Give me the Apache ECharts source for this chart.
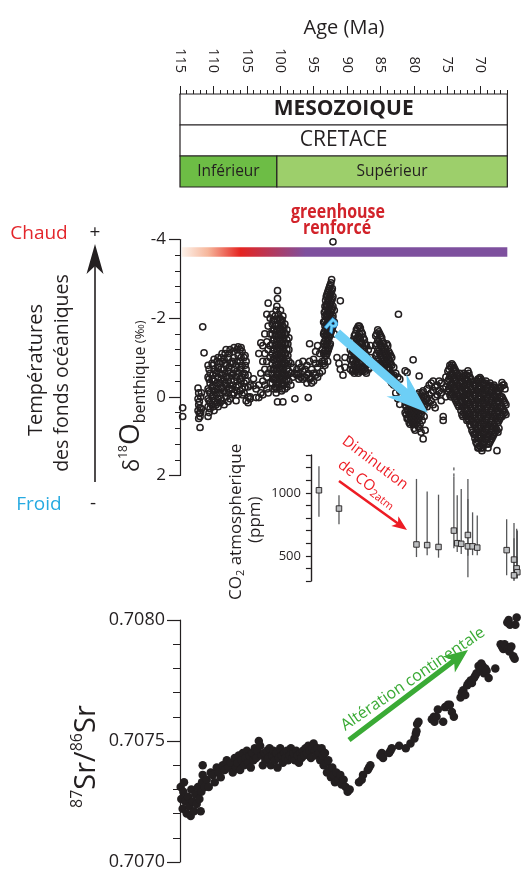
<!DOCTYPE html>
<html><head><meta charset="utf-8">
<script src="https://cdn.jsdelivr.net/npm/echarts@6/dist/echarts.min.js"></script>
<style>html,body{margin:0;padding:0;background:#fff}#c{width:522px;height:871px}</style>
</head><body><div id="c"></div><script>
// ---------------- DATA ----------------
const ageTickLabels = [115,110,105,100,95,90,85,80,75,70];
const unitNames = ['MESOZOIQUE','CRETACE','Inférieur','Supérieur'];
const unitRow   = [0,1,2,2];
const unitStart = [115,115,115,100.5];
const unitEnd   = [66,66,100.5,66];
const unitColor = ['#ffffff','#ffffff','#6dbd45','#9dcf6b'];

// greenhouse bar span (Ma)
const greenhouseBar = [115, 66];

// benthic d18O (per mil): [age Ma, [values]]
const d18oColumns = [
[114.6,[0.28,0.5]],
[112.3,[-0.22,0.05,0.35]],[112.2,[-0.1,0.2,0.55]],[112.1,[0.12,0.42]],[112.0,[0.28,0.5,0.78]],
[111.9,[0.0,0.4]],[111.8,[-0.1,0.3]],[111.6,[-1.78]],[111.4,[-1.12]],
[110.8,[-0.8,-0.5,-0.2,0.05,0.25,0.5]],[110.65,[-0.7,-0.45,-0.15,0.1,0.4]],[110.5,[-0.6,-0.35,-0.1,0.15,0.3]],
[110.2,[-0.85,-0.45,-0.25,0.0,0.2]],[110.05,[-0.8,-0.55,-0.3,-0.05,0.25]],[109.9,[-0.95,-0.7,-0.4,-0.15,0.1,0.35]],
[109.6,[-0.6,-0.3,-0.05,0.2]],[109.45,[-0.9,-0.65,-0.35,-0.1,0.15]],[109.3,[-1.0,-0.75,-0.5,-0.2,0.05,0.25]],
[109.0,[-0.85,-0.6,-0.35,-0.1,0.15]],[108.85,[-1.0,-0.7,-0.45,-0.2,0.05]],[108.7,[-1.1,-0.9,-0.55,-0.25,0.1]],
[108.4,[-0.95,-0.7,-0.4,-0.15,0.2]],[108.25,[-1.1,-0.85,-0.6,-0.35,-0.1]],[108.1,[-1.2,-0.8,-0.5,-0.3,0.0]],
[107.8,[-1.0,-0.65,-0.4,-0.1,0.12]],[107.65,[-1.1,-0.75,-0.5,-0.2]],[107.5,[-1.2,-0.85,-0.6,-0.3,0.05]],
[107.2,[-0.9,-0.55,-0.2,-0.05]],[107.05,[-1.15,-0.85,-0.6,-0.3]],[106.9,[-1.25,-1.0,-0.7,-0.4,-0.1]],
[106.6,[-0.8,-0.5,-0.25,0.1]],[106.45,[-1.2,-0.9,-0.65,-0.4,-0.15]],[106.3,[-1.27,-1.05,-0.6,-0.3,-0.05]],
[106.0,[-1.2,-0.9,-0.7,-0.45,-0.15]],[105.85,[-1.25,-1.0,-0.75,-0.4]],[105.7,[-1.15,-0.8,-0.5,-0.2,-0.05]],
[105.4,[-1.0,-0.6,-0.35,-0.1]],[105.25,[-1.05,-0.8,-0.55,-0.25]],[105.1,[-0.9,-0.7,-0.4,0.1]],
[104.8,[-0.55,-0.25,0.0,0.15]],[104.5,[-0.3,0.0,0.05]],
[104.0,[-0.46,-0.28]],[103.6,[0.02,-0.2]],
[103.2,[-0.3,0.02,-1.1]],[102.9,[-0.6,-0.1,-1.37]],
[102.6,[-1.3,-0.9,-0.4,-0.05]],[102.3,[-1.6,-1.1,-0.7,-0.3]],
[102.0,[-2.1,-1.4,-0.9,-0.5,-0.2]],[101.8,[-2.38,-1.8,-1.2,-0.6,-0.1]],
[101.5,[-2.0,-1.6,-1.3,-1.0,-0.7,-0.35]],
[101.2,[-2.1,-1.85,-1.6,-1.35,-1.1,-0.85,-0.6,-0.35]],
[101.05,[-1.95,-1.7,-1.45,-1.2,-0.95,-0.7,-0.45]],
[100.9,[-1.95,-1.7,-1.45,-1.2,-0.95,-0.7,-0.45,-0.2]],
[100.75,[-2.05,-1.8,-1.55,-1.3,-1.05,-0.8,-0.5,-0.25]],
[100.6,[-2.2,-1.8,-1.55,-1.3,-1.05,-0.8,-0.55,-0.3,-0.1]],
[100.5,[-2.3,-1.7,-1.45,-1.2,-0.95,-0.7,-0.45,-0.2]],
[100.4,[-2.7,-2.5,-1.95,-1.65,-1.4,-1.15,-0.9,-0.65,-0.4,0.13]],
[100.25,[-2.1,-1.85,-1.6,-1.35,-1.1,-0.85,-0.6,-0.35]],
[100.1,[-2.0,-1.75,-1.5,-1.25,-1.0,-0.75,-0.5,-0.25]],
[99.95,[-2.2,-1.95,-1.7,-1.45,-1.2,-0.95,-0.7,-0.45]],
[99.8,[-1.9,-1.6,-1.35,-1.1,-0.85,-0.6,-0.35,-0.15]],
[99.7,[-1.95,-1.7,-1.45,-1.2,-0.95,-0.7,-0.45,-0.2]],
[99.6,[-2.05,-1.8,-1.55,-1.3,-1.05,-0.8,-0.55,-0.3,0.13]],
[99.45,[-1.75,-1.5,-1.25,-1.0,-0.75,-0.5,-0.3]],
[99.3,[-1.85,-1.6,-1.35,-1.1,-0.85,-0.6,-0.4,-0.2]],
[99.15,[-1.6,-1.35,-1.1,-0.85,-0.55]],
[99.0,[-1.7,-1.45,-1.2,-0.95,-0.7,-0.45,-0.25]],
[98.85,[-1.35,-1.05,-0.8,-0.55]],
[98.7,[-1.5,-1.2,-0.9,-0.65,-0.4]],[98.4,[-0.85,-0.6,-0.3]],[98.1,[-0.75,-0.5]],
[97.8,[0.05,-0.6]],[97.5,[-0.7,-0.55]],[97.2,[-0.85,-0.6,-0.45]],[96.9,[-0.75,-0.5]],
[96.6,[-0.9,-0.65,-0.45]],[96.3,[-0.7,-0.5]],[96.0,[-0.8,-0.55,-0.35]],[95.8,[0.02,-0.6]],
[95.6,[-1.35,-0.9,-0.45]],[95.3,[-0.7,-0.5,-0.35]],[95.0,[-0.95,-0.6,-0.4]],
[94.7,[-1.15,-0.85,-0.55]],[94.4,[-1.3,-0.75,-0.5]],[94.1,[-1.1,-0.85,-0.6]],
[93.7,[-1.2,-0.9,-0.65]],[93.5,[-1.9,-1.6,-1.35,-1.1,-0.85]],
[93.4,[-2.15,-1.9,-1.65,-1.4,-1.15,-0.9]],
[93.3,[-2.3,-2.05,-1.8,-1.55,-1.3,-1.05,-0.8]],
[93.2,[-2.45,-2.2,-1.95,-1.7,-1.45,-1.2]],
[93.1,[-2.55,-2.3,-2.05,-1.8,-1.55,-1.3,-1.05]],
[93.0,[-2.6,-2.35,-2.1,-1.85,-1.6,-1.35,-1.1]],
[92.9,[-2.65,-2.4,-2.15,-1.9,-1.65,-1.4,-1.15,-0.9]],
[92.8,[-2.7,-2.45,-2.2,-1.95,-1.7,-1.45,-1.2]],
[92.7,[-2.75,-2.5,-2.25,-2.0,-1.75,-1.5,-1.25]],
[92.6,[-2.8,-2.55,-2.3,-2.05,-1.8,-1.55,-1.3]],
[92.5,[-2.85,-2.6,-2.35,-2.1,-1.85,-1.6,-1.35]],
[92.4,[-2.9,-2.65,-2.4,-2.15,-1.9,-1.65]],
[92.3,[-2.98,-2.7,-2.45,-2.2,-1.95,-1.7]],
[92.2,[-2.75,-2.5,-2.25,-2.0,-1.75]],
[92.1,[-3.94,-2.55,-2.3,-2.05,-1.8]],[91.9,[-2.2,-1.9,-1.6]],
[91.5,[-1.0]],[91.2,[-0.85]],[91.0,[-2.44,-0.7]],[90.6,[-0.55]],[90.3,[-0.75,-1.0]],
[89.5,[-1.2,-0.95,-0.7]],[89.35,[-1.3,-1.05,-0.8]],[89.2,[-1.4,-1.15,-0.9,-0.65]],
[89.05,[-1.45,-1.2,-0.95,-0.7]],[88.9,[-1.55,-1.3,-1.05,-0.8,-0.6]],
[88.75,[-1.6,-1.35,-1.1,-0.85,-0.65]],[88.6,[-1.7,-1.45,-1.2,-0.95,-0.7]],
[88.45,[-1.75,-1.5,-1.25,-1.0,-0.75]],[88.3,[-1.8,-1.55,-1.3,-1.05,-0.8,-0.6]],
[88.15,[-1.8,-1.6,-1.35,-1.1,-0.85,-0.65]],[88.0,[-1.75,-1.5,-1.25,-1.0,-0.75]],
[87.85,[-1.65,-1.4,-1.15,-0.9,-0.7]],[87.7,[-1.6,-1.35,-1.1,-0.85,-0.65]],
[87.55,[-1.5,-1.25,-1.0,-0.75]],[87.4,[-1.45,-1.2,-0.95,-0.7]],
[87.25,[-1.35,-1.1,-0.85,-0.65]],[87.1,[-1.3,-1.05,-0.8,-0.6]],
[86.8,[-1.2,-0.95,-0.7]],[86.5,[-1.3,-1.0,-0.75]],
[85.7,[-1.55,-1.3,-1.05]],[85.55,[-1.6,-1.35,-1.1,-0.85]],[85.4,[-1.7,-1.45,-1.2,-0.95,-0.75]],
[85.25,[-1.65,-1.4,-1.15,-0.9,-0.7]],[85.1,[-1.6,-1.35,-1.1,-0.85]],
[84.95,[-1.55,-1.3,-1.05,-0.85]],[84.8,[-1.5,-1.25,-1.0,-0.8]],
[84.65,[-1.4,-1.15,-0.95,-0.75]],[84.5,[-1.35,-1.1,-0.9,-0.7]],
[84.35,[-1.25,-1.05,-0.85,-0.65]],[84.2,[-1.2,-1.0,-0.8,-0.6]],
[84.05,[-1.35,-1.1,-0.9,-0.7]],[83.9,[-1.3,-1.05,-0.85,-0.6]],
[83.75,[-1.15,-0.95,-0.75,-0.55]],[83.6,[-1.1,-0.9,-0.7,-0.5]],
[83.45,[-1.05,-0.85,-0.6,-0.4]],[83.3,[-1.0,-0.8,-0.55,-0.35]],[83.0,[-0.75,-0.55,-0.3]],
[82.7,[-0.6,-0.35,-0.1]],[82.4,[-0.5,-0.25,0.05]],[82.3,[-2.1]],[82.1,[-0.45,-0.15,0.19]],
[81.3,[0.0,0.2,0.4,-0.66]],[81.15,[0.05,0.25,0.45]],[81.0,[-0.1,0.15,0.35,0.55,-0.62]],
[80.85,[-0.05,0.15,0.35,0.55]],[80.7,[0.05,0.25,0.45,0.65]],[80.55,[0.1,0.3,0.5,0.7]],
[80.4,[0.0,0.2,0.4,0.6]],[80.25,[0.05,0.25,0.45,0.65]],
[80.1,[-0.94,0.1,0.3,0.5,0.7]],[79.95,[0.0,0.2,0.4,0.6,0.8]],[79.8,[0.05,0.25,0.45,0.65,0.85]],
[79.65,[0.1,0.3,0.5,0.7]],[79.5,[0.0,0.2,0.4,0.6]],[79.35,[-0.05,0.15,0.35,0.55,0.75]],
[79.2,[-0.53,-0.1,0.15,0.35,0.55,0.8]],[79.05,[0.05,0.3,0.5,0.7]],
[78.9,[0.0,0.2,0.45,0.9]],[78.75,[-0.1,0.15,0.35,0.6]],[78.6,[-0.15,0.1,0.3,1.07]],
[78.45,[0.0,0.25,0.5]],[78.3,[-0.05,0.2,0.85]],
[78.0,[-0.2,0.05,0.25]],[77.7,[-0.3,-0.05,0.15]],[77.4,[-0.35,-0.1,0.1]],
[77.1,[-0.4,-0.15,0.2]],[76.8,[-0.25,0.0,0.28]],[76.5,[-0.3,-0.05]],
[76.2,[-0.4,-0.15]],[75.9,[-0.35,-0.1,0.1]],[75.6,[0.5,0.6,-0.2]],
[75.2,[-0.5,-0.25,0.0]],[74.9,[-0.65,-0.4,-0.15]],[74.75,[-0.7,-0.45,-0.2]],
[74.6,[-0.8,-0.55,-0.3,-0.05]],[74.45,[-0.75,-0.5,-0.25,0.0]],
[74.3,[-0.84,-0.6,-0.35,-0.1]],[74.15,[-0.8,-0.55,-0.3,-0.05]],[74.0,[-0.75,-0.5,-0.25,0.0]],
[73.85,[-0.7,-0.45,-0.2,0.05]],[73.7,[-0.65,-0.4,-0.15,0.1]],[73.55,[-0.6,-0.35,-0.1,0.15]],
[73.4,[-0.55,-0.3,-0.05,0.2]],[73.25,[-0.5,-0.25,0.0,0.25]],[73.1,[-0.6,-0.35,-0.1,0.15]],
[72.95,[-0.4,-0.15,0.1,0.35]],[72.8,[-0.5,-0.25,0.0,0.25,0.45]],[72.65,[-0.5,-0.25,0.0,0.25,0.5]],
[72.5,[-0.6,-0.35,-0.1,0.15,0.4]],[72.35,[-0.55,-0.3,-0.05,0.2,0.45]],
[72.2,[-0.45,-0.2,0.05,0.3,0.5]],[72.05,[-0.55,-0.3,-0.05,0.2,0.45,0.6]],
[71.9,[-0.66,-0.4,-0.15,0.1,0.35,0.55]],[71.75,[-0.6,-0.35,-0.1,0.15,0.4,0.6]],
[71.6,[-0.5,-0.25,0.0,0.25,0.5,0.7]],[71.45,[-0.45,-0.2,0.05,0.3,0.55,0.75]],
[71.3,[-0.4,-0.15,0.1,0.35,0.6,0.85]],[71.15,[-0.35,-0.1,0.15,0.4,0.65,0.9]],
[71.0,[-0.3,-0.05,0.2,0.45,0.7,0.95]],[70.85,[-0.3,-0.05,0.2,0.45,0.7,0.95,1.05]],
[70.7,[-0.35,-0.1,0.15,0.4,0.65,0.9,1.15]],[70.55,[-0.4,-0.15,0.1,0.35,0.6,0.85,1.1,1.2]],
[70.4,[-0.45,-0.2,0.05,0.3,0.55,0.8,1.05,1.3]],[70.25,[-0.45,-0.2,0.05,0.3,0.55,0.8,1.05,1.3]],
[70.1,[-0.49,-0.25,0.0,0.25,0.5,0.75,1.0,1.25]],[69.95,[-0.45,-0.2,0.05,0.3,0.55,0.8,1.05,1.3]],
[69.8,[-0.4,-0.15,0.1,0.35,0.6,0.85,1.1,1.37]],[69.65,[-0.35,-0.1,0.15,0.4,0.65,0.9,1.15,1.3]],
[69.5,[-0.3,-0.05,0.2,0.45,0.7,0.95,1.2]],[69.35,[-0.35,-0.1,0.15,0.4,0.65,0.9,1.15]],
[69.2,[-0.4,-0.15,0.1,0.35,0.6,0.85,1.1]],[69.05,[-0.3,-0.05,0.2,0.45,0.7,0.95,1.2]],
[68.9,[-0.25,0.0,0.25,0.5,0.75,1.0,1.3]],[68.75,[-0.3,-0.05,0.2,0.45,0.7,0.95,1.2]],
[68.6,[-0.35,-0.1,0.15,0.4,0.65,0.9,1.15]],[68.45,[-0.25,0.0,0.25,0.5,0.75,1.0,1.1]],
[68.3,[-0.2,0.05,0.3,0.55,0.8,1.05]],[68.15,[-0.25,0.0,0.25,0.5,0.75,1.0]],
[68.0,[-0.3,-0.05,0.2,0.45,0.7,0.95]],[67.85,[-0.25,0.0,0.25,0.5,0.75,0.9]],
[67.7,[-0.2,0.05,0.3,0.55,0.8]],[67.55,[-0.15,0.1,0.35,0.6,0.85,1.37]],
[67.4,[-0.1,0.15,0.4,0.65,0.9]],[67.25,[-0.15,0.1,0.35,0.6,0.8]],
[67.1,[-0.2,0.05,0.3,0.55]],[66.95,[-0.25,0.0,0.25,0.5]],
[66.8,[-0.36,0.0,0.25,0.5]],[66.65,[-0.3,0.05,0.3,0.45]],
[66.5,[-0.3,0.1,0.35]],[66.35,[-0.2,0.15,0.4]],[66.2,[0.2,0.45]]
];

// atmospheric CO2 (ppm)
const co2Age  = [94.2,91.2,79.6,78.0,76.3,74.0,73.5,72.9,71.9,71.9,71.2,70.5,66.1,65.0,64.6,64.5,65.0];
const co2Val  = [1020,875,590,585,570,700,600,595,665,575,575,565,545,470,400,370,345];
const co2Low  = [810,750,490,505,485,560,530,515,500,330,505,505,345,310,330,320,300];
const co2High = [1210,980,1110,1010,985,1130,980,1030,1110,950,845,820,790,760,715,700,640];
const co2HighDashed = [null,null,null,null,null,1215,null,null,null,null,null,null,null,null,null,null,null];

// 87Sr/86Sr : [age Ma, ratio]
const srPoints = [
[114.9,.70731],[114.8,.70726],[114.6,.70722],[114.5,.70729],[114.4,.70733],[114.2,.70725],[114.0,.7072],
[113.8,.70727],[113.6,.70723],[113.4,.70719],[113.3,.7073],[113.1,.70725],[112.9,.70721],[112.7,.70728],
[112.5,.70724],[112.3,.70731],[112.1,.70726],[111.9,.70721],[111.8,.70729],[111.7,.70733],[111.6,.7074],[111.6,.70736],
[111.3,.70731],[111.0,.70734],[110.7,.70731],[110.4,.70737],[110.1,.70736],[109.8,.70733],[109.5,.70739],
[109.2,.70737],[108.9,.70735],[108.6,.7074],[108.3,.70738],[108.0,.70742],[107.7,.70739],[107.4,.70741],[107.1,.70737],
[106.8,.70743],[106.6,.70739],[106.4,.70741],[106.2,.70744],[106.0,.70738],[105.8,.70742],[105.6,.70745],
[105.4,.7074],[105.2,.70743],[105.0,.70746],[104.8,.70741],[104.6,.70744],[104.4,.70739],[104.2,.70745],
[104.0,.70742],[103.8,.70747],[103.6,.70743],[103.4,.70746],[103.2,.7075],[103.0,.70748],[102.8,.70744],
[102.6,.7074],[102.4,.70745],[102.2,.70742],[102.0,.70746],[101.8,.70743],[101.6,.70747],[101.4,.7074],
[101.2,.70744],[101.0,.70746],[100.8,.70742],[100.6,.70745],[100.4,.70739],[100.2,.70743],[100.0,.70747],
[99.8,.70744],[99.6,.70741],[99.4,.70745],[99.2,.70743],[99.0,.70746],[98.8,.70742],[98.6,.70744],
[98.4,.70747],[98.2,.70743],[98.0,.70745],[97.8,.70742],[97.6,.70746],[97.4,.70744],[97.2,.70741],
[97.0,.70745],[96.8,.70743],[96.6,.70746],[96.4,.70744],[96.2,.70747],[96.0,.70745],[95.8,.70748],
[95.6,.70746],[95.4,.70743],[95.2,.70747],[95.0,.70749],[94.8,.70746],[94.6,.70744],[94.4,.70747],
[94.2,.70745],[94.0,.70742],
[93.8,.70747],[93.6,.70744],[93.5,.7074],[93.3,.70745],[93.1,.70741],[93.0,.70737],[92.8,.70742],
[92.6,.70738],[92.4,.70735],[92.2,.70739],[92.0,.70736],[91.8,.70733],[91.6,.70737],[91.3,.70734],
[91.0,.70736],[90.8,.70732],[90.5,.70734],[90.2,.70731],[89.9,.70729],[89.6,.7073],
[88.2,.70733],[87.8,.70734],[87.6,.70736],[86.9,.70738],[86.7,.70739],[86.5,.7074],
[85.0,.70744],[84.8,.70745],[84.6,.70743],[83.7,.70745],[83.5,.70746],[83.3,.70747],
[82.2,.70748],[81.2,.70747],[80.5,.70749],[79.9,.70751],[79.7,.70753],[79.6,.70754],[79.5,.70757],[79.3,.70758],
[77.3,.70759],[77.0,.7076],[76.9,.70758],[76.6,.7076],[76.4,.70763],[75.6,.70758],[75.3,.70764],[74.9,.70765],[74.6,.70765],
[74.3,.70762],[74.0,.7076],
[73.0,.70768],[72.8,.7077],[72.6,.70771],[72.3,.70769],[72.0,.70773],[71.8,.70774],[71.5,.70775],[71.3,.70774],[71.0,.70776],
[70.8,.70777],[70.6,.70778],[70.3,.70781],[70.1,.7078],[69.9,.70782],[69.7,.70781],[69.5,.70778],[69.3,.7078],[69.1,.70779],[68.8,.70776],
[67.8,.7078],[67.0,.7079],[66.8,.70789],[66.6,.70788],[66.4,.7079],[66.2,.70789],[65.9,.70788],[65.7,.70787],[65.4,.70789],[65.1,.70785],
[64.9,.70784],[66.0,.70799],[65.8,.708],[65.6,.70798],[64.8,.70798],[64.6,.70801]
];

// ---------------- LAYOUT ----------------
const FONT = "'Open Sans','Noto Sans',sans-serif";
const INK = '#231f20';
const RED = '#e3262b';
const X0 = 180, PXMA = 6.68, AMAX = 115;
const ax = a => X0 + (AMAX - a) * PXMA;
const AMIN_RULER = 66, AMIN = 64, CO2_AMAX = 95.4;

const rulerGrid = {left: X0, top: 94, width: (AMAX-AMIN_RULER)*PXMA, height: 93};
const d18Grid = {left: X0, top: 239.5, width: (AMAX-AMIN)*PXMA, height: 236};
const co2Grid = {left: ax(CO2_AMAX), top: 455, width: (CO2_AMAX-AMIN)*PXMA, height: 126};
const srGrid = {left: X0, top: 620, width: (AMAX-AMIN)*PXMA, height: 243};

const d18Data = [];
d18oColumns.forEach(c => c[1].forEach(v => d18Data.push([c[0], v])));

const rowFont = [`bold 21px ${FONT}`, `21px ${FONT}`, `15.5px ${FONT}`];

const mctx = document.createElement('canvas').getContext('2d');
function tw(t, f){ mctx.font = f; return mctx.measureText(t).width; }
function rotRun(pieces, xBase, y0, color){
  let y = y0; const out = [];
  pieces.forEach(p => {
    const f = `${p.w||'normal'} ${p.s}px ${FONT}`;
    out.push({type:'text', x: xBase + (p.dy||0) + 0.25*p.s, y: y, rotation: Math.PI/2, z: 50,
      style:{text:p.t, font:f, fill:color, align:'left', verticalAlign:'bottom'}});
    y -= tw(p.t, f);
  });
  return out;
}
function arrowPts(x1,y1,x2,y2,sh,hl,hh,notch){
  const dx=x2-x1, dy=y2-y1, L=Math.hypot(dx,dy), ux=dx/L, uy=dy/L, px=-uy, py=ux;
  const nb=L-hl, neck=nb+hl*(notch||0);
  const P=(d,o)=>[x1+ux*d+px*o, y1+uy*d+py*o];
  return [P(0,sh),P(neck,sh),P(nb,hh),P(L,0),P(nb,-hh),P(neck,-sh),P(0,-sh)];
}
function rtext(x,y,rot,text,font,fill,extra){
  return Object.assign({type:'text', x, y, rotation:rot, z:50,
    style:{text, font, fill, align:'center', verticalAlign:'middle'}}, extra||{});
}

const graphics = [
  rtext(344, 28, 0, 'Age (Ma)', `20px ${FONT}`, INK),
  rtext(338, 213, 0, 'greenhouse', `bold 19px ${FONT}`, '#d2232a', {scaleX:0.84}),
  rtext(337, 229, 0, 'renforcé', `bold 19px ${FONT}`, '#d2232a', {scaleX:0.84}),
  rtext(39, 234, 0, 'Chaud', `19px ${FONT}`, RED),
  rtext(95, 233, 0, '+', `19px ${FONT}`, INK),
  rtext(39, 505, 0, 'Froid', `19px ${FONT}`, '#27aae1'),
  rtext(93, 504, 0, '-', `19px ${FONT}`, INK),
  {type:'line', z:50, shape:{x1:95,y1:482,x2:95,y2:262}, style:{stroke:INK, lineWidth:1.6}},
  {type:'polygon', z:50, shape:{points:[[95,244],[86.5,274],[95,266],[103.5,274]]}, style:{fill:INK}},
  rtext(36, 370, Math.PI/2, 'Températures', `20px ${FONT}`, INK),
  rtext(62, 373, Math.PI/2, 'des fonds océaniques', `19.5px ${FONT}`, INK),
  ...rotRun([{t:'δ',s:22},{t:'18',s:12,dy:-11},{t:'O',s:28},{t:'benthique',s:16,dy:6},{t:' (‰)',s:13,dy:6}], 138, 472, INK),
  ...rotRun([{t:'CO',s:17},{t:'2',s:11,dy:4},{t:' atmospherique',s:17}], 240, 600, INK),
  ...rotRun([{t:'(ppm)',s:17}], 259, 543, INK),
  ...rotRun([{t:'87',s:16,dy:-13},{t:'Sr',s:29},{t:'/',s:29},{t:'86',s:16,dy:-13},{t:'Sr',s:29}], 94, 808, INK),
  // blue arrow R
  {type:'polygon', z:60, shape:{points:arrowPts(337,333,428,413,4.5,42,15,0.25)}, style:{fill:'#6dcff6'}},
  {type:'text', x:331, y:326, rotation:-0.72, z:61,
   style:{text:'R', font:`bold 17px ${FONT}`, fill:'#6dcff6', stroke:'#1c75bc', lineWidth:1.3, align:'center', verticalAlign:'middle'}},
  // red arrow
  {type:'polygon', z:60, shape:{points:arrowPts(339,481,407,530,1.3,15,6,0.2)}, style:{fill:'#ed1c24'}},
  rtext(375, 463, -0.65, 'Diminution', `15px ${FONT}`, '#ed1c24'),
  {type:'text', x:367, y:484, rotation:-0.65, z:50, style:{text:'{a|de CO}{s|2atm}', align:'center', verticalAlign:'middle',
     rich:{a:{font:`15px ${FONT}`, fill:'#ed1c24'}, s:{font:`11px ${FONT}`, fill:'#ed1c24', padding:[8,0,0,0]}}}},
  // green arrow
  {type:'polygon', z:60, shape:{points:arrowPts(349,740,468,650,2.6,24,10,0.2)}, style:{fill:'#3aaa35'}},
  rtext(413, 679, 0.6, 'Altération continentale', `16px ${FONT}`, '#3aaa35')
];

// ---------------- OPTION ----------------
const baseX = (gi, min, max, extra) => Object.assign({type:'value', gridIndex:gi, min, max, inverse:true, show:false, splitLine:{show:false}}, extra||{});
const option = {
  animation:false,
  textStyle:{fontFamily:FONT},
  grid:[
    Object.assign({}, rulerGrid),
    Object.assign({}, rulerGrid),
    Object.assign({}, d18Grid),
    Object.assign({}, co2Grid),
    Object.assign({}, srGrid)
  ],
  xAxis:[
    baseX(0, AMIN_RULER, AMAX, {show:true, position:'top', interval:1,
      axisLine:{lineStyle:{color:INK, width:1}}, axisTick:{length:4, lineStyle:{color:INK, width:1}}, axisLabel:{show:false}}),
    baseX(1, AMIN_RULER, AMAX, {show:true, position:'top', interval:1,
      axisLine:{show:false}, axisTick:{length:8, customValues:ageTickLabels, lineStyle:{color:INK, width:1}},
      axisLabel:{show:true, customValues:ageTickLabels, rotate:-90, margin:21, fontSize:14.5, color:INK}}),
    baseX(2, AMIN, AMAX),
    baseX(3, AMIN, CO2_AMAX),
    baseX(4, AMIN, AMAX)
  ],
  yAxis:[
    {type:'value', gridIndex:0, min:0, max:3, inverse:true, show:false},
    {type:'value', gridIndex:1, min:0, max:3, inverse:true, show:false},
    {type:'value', gridIndex:2, min:-4, max:2, interval:2, inverse:true,
      axisLine:{show:true, lineStyle:{color:INK, width:1.2}}, axisTick:{show:true, length:11, lineStyle:{color:INK, width:1.2}},
      minorTick:{show:true, splitNumber:5, length:5, lineStyle:{color:INK, width:1}},
      axisLabel:{fontSize:17, color:INK, margin:14}, splitLine:{show:false}},
    {type:'value', gridIndex:3, min:300, max:1300, interval:100,
      axisLine:{show:true, lineStyle:{color:INK, width:1.4}}, axisTick:{show:true, length:5, lineStyle:{color:INK, width:1.2}},
      axisLabel:{fontSize:13, color:INK, margin:10, formatter:v => (v===500||v===1000) ? String(v) : ''}, splitLine:{show:false}},
    {type:'value', gridIndex:4, min:0.707, max:0.708, interval:0.0005,
      axisLine:{show:true, lineStyle:{color:INK, width:1.2}}, axisTick:{show:true, length:13, lineStyle:{color:INK, width:1.2}},
      minorTick:{show:true, splitNumber:5, length:7, lineStyle:{color:INK, width:1}},
      axisLabel:{fontSize:18, color:INK, margin:15, formatter:v => v.toFixed(4)}, splitLine:{show:false}}
  ],
  series:[
    {type:'custom', xAxisIndex:0, yAxisIndex:0, silent:true, clip:false,
     data: unitNames.map((n,i)=>[unitStart[i], unitEnd[i], unitRow[i], i]),
     renderItem:(params, api)=>{
       const i = api.value(3), r = api.value(2);
       const p0 = api.coord([api.value(0), r]);
       const p1 = api.coord([api.value(1), r+1]);
       const x = Math.min(p0[0],p1[0]), w = Math.abs(p1[0]-p0[0]);
       return {type:'group', children:[
         {type:'rect', shape:{x, y:p0[1], width:w, height:p1[1]-p0[1]}, style:{fill:unitColor[i], stroke:INK, lineWidth:1.2}},
         {type:'text', style:{text:unitNames[i], x:x+w/2, y:(p0[1]+p1[1])/2, align:'center', verticalAlign:'middle', font:rowFont[r], fill:INK}}
       ]};
     }},
    {type:'custom', xAxisIndex:2, yAxisIndex:2, silent:true, clip:false,
     data:[[greenhouseBar[0], -3.8, greenhouseBar[1], -3.56]],
     renderItem:(params, api)=>{
       const p0 = api.coord([api.value(0), api.value(1)]);
       const p1 = api.coord([api.value(2), api.value(3)]);
       return {type:'rect', shape:{x:p0[0]+2, y:p0[1], width:p1[0]-p0[0]-2, height:p1[1]-p0[1]},
         style:{fill:{type:'linear', x:0, y:0, x2:1, y2:0, colorStops:[
           {offset:0, color:'#fdf2ea'},{offset:0.08, color:'#f6b69b'},{offset:0.18, color:'#e52421'},
           {offset:0.38, color:'#7e509e'},{offset:1, color:'#7e509e'}]}}};
     }},
    {type:'scatter', xAxisIndex:2, yAxisIndex:2, data:d18Data, symbol:'circle', symbolSize:6.2, silent:true,
     itemStyle:{color:'rgba(255,255,255,0)', borderColor:INK, borderWidth:1.5, opacity:1}},
    {type:'custom', xAxisIndex:3, yAxisIndex:3, silent:true, clip:false,
     data: co2Age.map((a,i)=>[a, co2Low[i], co2High[i], co2HighDashed[i]==null ? NaN : co2HighDashed[i]]),
     renderItem:(params, api)=>{
       const a = api.value(0);
       const lo = api.coord([a, api.value(1)]), hi = api.coord([a, api.value(2)]);
       const ch = [{type:'line', shape:{x1:lo[0], y1:lo[1], x2:hi[0], y2:hi[1]}, style:{stroke:'#58595b', lineWidth:1.3}}];
       const d = api.value(3);
       if (!isNaN(d)) { const dp = api.coord([a, d]);
         ch.push({type:'line', shape:{x1:hi[0], y1:hi[1], x2:dp[0], y2:dp[1]}, style:{stroke:'#58595b', lineWidth:1.3, lineDash:[3,3]}}); }
       return {type:'group', children:ch};
     }},
    {type:'scatter', xAxisIndex:3, yAxisIndex:3, silent:true, clip:false, symbol:'rect', symbolSize:5.5,
     data: co2Age.map((a,i)=>[a, co2Val[i]]),
     itemStyle:{color:'#bcbec0', borderColor:INK, borderWidth:0.9, opacity:1}},
    {type:'scatter', xAxisIndex:4, yAxisIndex:4, silent:true, clip:false, symbol:'circle', symbolSize:8.5,
     data: srPoints, itemStyle:{color:INK, opacity:1}}
  ],
  graphic: graphics
};
const chart = echarts.init(document.getElementById('c'), null, {renderer:'canvas'});
chart.setOption(option);
</script></body></html>
